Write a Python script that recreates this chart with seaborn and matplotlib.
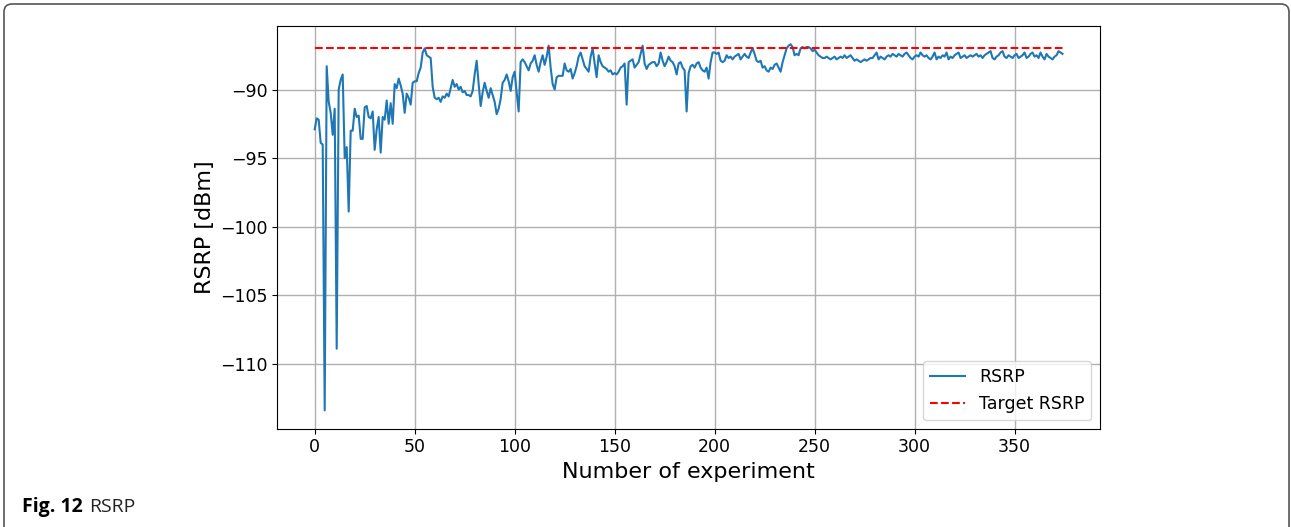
import numpy as np
import pandas as pd
import matplotlib
matplotlib.use("Agg")
import matplotlib.pyplot as plt
from matplotlib.patches import FancyBboxPatch
import seaborn as sns

# RSRP per experiment in segments
rsrp_0_59 = [
    -92.9, -92.1, -92.2, -93.9, -94.0, -113.4, -88.3, -90.9, -91.7, -93.3,
    -91.4, -108.9, -90.0, -89.3, -88.9, -95.0, -94.2, -98.9, -93.0, -93.0,
    -91.4, -92.0, -91.9, -93.6, -93.6, -91.3, -91.2, -92.0, -92.1, -91.6,
    -94.4, -92.9, -92.0, -94.6, -92.0, -92.2, -90.8, -92.5, -91.0, -92.5,
    -89.6, -89.9, -89.2, -89.7, -90.3, -91.7, -90.3, -90.6, -91.1, -89.5,
    -89.4, -89.4, -88.8, -88.4, -87.3, -87.0, -87.5, -87.6, -87.7, -89.8,
]
rsrp_60_121 = [
    -90.6, -90.7, -90.6, -90.9, -90.5, -90.6, -90.3, -90.5, -89.9, -89.3,
    -89.8, -89.6, -90.0, -89.8, -90.2, -90.1, -90.4, -90.4, -90.5, -90.1,
    -88.9, -87.9, -89.6, -91.2, -90.2, -89.5, -90.1, -90.6, -89.9, -90.4,
    -90.9, -91.8, -91.4, -90.7, -89.5, -89.3, -88.9, -89.4, -90.1, -89.1,
    -88.7, -90.2, -91.6, -88.0, -87.8, -88.0, -88.3, -88.6, -88.1, -87.9,
    -87.5, -88.2, -88.7, -88.0, -87.5, -88.2, -87.6, -86.8, -88.4, -89.6,
    -90.0, -89.1,
]
rsrp_122_187 = [
    -89.0, -89.0, -89.0, -88.1, -88.6, -88.7, -88.5, -89.2, -88.8, -88.3,
    -87.6, -87.3, -87.8, -88.3, -88.5, -88.7, -87.6, -87.0, -88.1, -89.1,
    -87.5, -88.0, -88.3, -88.4, -88.5, -88.7, -88.6, -88.9, -88.8, -88.9,
    -88.7, -88.4, -88.3, -88.1, -91.1, -88.0, -87.9, -87.8, -88.4, -88.2,
    -88.0, -87.4, -86.8, -88.1, -88.5, -88.2, -88.1, -88.0, -88.0, -88.3,
    -88.1, -87.3, -87.9, -88.3, -88.0, -87.6, -87.9, -88.0, -88.3, -88.9,
    -88.1, -88.0, -88.4, -88.6, -91.6, -88.8,
]
rsrp_188_252 = [
    -88.3, -88.2, -88.4, -88.1, -88.0, -88.4, -88.6, -88.7, -88.4, -89.2,
    -88.0, -87.3, -87.3, -87.4, -87.3, -87.9, -88.0, -87.9, -87.5, -87.7,
    -87.6, -87.8, -87.6, -87.5, -87.4, -87.8, -87.6, -87.4, -87.6, -87.7,
    -87.3, -87.0, -87.4, -87.9, -88.0, -87.9, -88.4, -88.3, -88.6, -88.7,
    -88.4, -88.5, -88.2, -88.1, -88.4, -88.7, -88.0, -87.5, -87.0, -86.8,
    -86.7, -86.9, -87.5, -87.4, -87.5, -87.0, -86.9, -87.0, -86.9, -86.9,
    -87.0, -87.2, -87.1, -87.3, -87.5,
]
rsrp_253_374 = [
    -87.6, -87.7, -87.7, -87.6, -87.7, -87.8, -87.7, -87.6, -87.8, -87.7,
    -87.6, -87.7, -87.5, -87.7, -87.6, -87.5, -87.7, -87.9, -87.8, -87.9,
    -88.0, -87.9, -87.8, -87.9, -87.8, -87.7, -87.7, -87.5, -87.3, -87.8,
    -87.6, -87.7, -87.8, -87.6, -87.5, -87.6, -87.4, -87.5, -87.6, -87.4,
    -87.5, -87.6, -87.4, -87.3, -87.5, -87.7, -87.8, -87.6, -87.5, -87.6,
    -87.3, -87.5, -87.6, -87.5, -87.7, -87.8, -87.6, -87.3, -87.8, -87.6,
    -87.7, -87.5, -87.6, -87.3, -87.8, -87.6, -87.7, -87.5, -87.4, -87.3,
    -87.7, -87.6, -87.5, -87.7, -87.6, -87.5, -87.6, -87.5, -87.4, -87.6,
    -87.5, -87.7, -87.5, -87.4, -87.3, -87.2, -87.7, -87.8, -87.6, -87.5,
    -87.3, -87.2, -87.6, -87.7, -87.5, -87.6, -87.7, -87.5, -87.4, -87.7,
    -87.6, -87.5, -87.3, -87.7, -87.6, -87.4, -87.3, -87.6, -87.5, -87.7,
    -87.3, -87.6, -87.8, -87.4, -87.6, -87.7, -87.8, -87.6, -87.5, -87.2,
    -87.3, -87.4,
]
TARGET_RSRP = -87.0

rsrp = rsrp_0_59 + rsrp_60_121 + rsrp_122_187 + rsrp_188_252 + rsrp_253_374
experiments = np.arange(len(rsrp))

df = pd.DataFrame({
    "experiment": experiments,
    "RSRP": rsrp,
    "Target RSRP": np.full(len(rsrp), TARGET_RSRP),
})


def main():
    fig = plt.figure(figsize=(12.91, 5.27), dpi=100)
    ax = fig.add_axes([0.2148, 0.1865, 0.6372, 0.7642])

    sns.lineplot(data=df, x="experiment", y="RSRP", ax=ax,
                 color="#1f77b4", linewidth=1.5, label="RSRP")
    sns.lineplot(data=df, x="experiment", y="Target RSRP", ax=ax,
                 color="red", linestyle="--", linewidth=1.5, label="Target RSRP")

    ax.set_xlabel("Number of experiment", fontsize=16)
    ax.set_ylabel("RSRP [dBm]", fontsize=16)
    ax.tick_params(labelsize=12.5)
    ax.set_xticks(np.arange(0, 351, 50))
    ax.set_yticks(np.arange(-110, -89, 5))
    ax.grid(True, color="#b0b0b0", linewidth=1.0)
    ax.legend(loc="lower right", fontsize=12.5)

    # outer frame of the figure panel
    frame = FancyBboxPatch((4, -30), 1285, 553,
                           boxstyle="round,pad=0,rounding_size=8",
                           transform=None, fill=False,
                           edgecolor="#555555", linewidth=1.2)
    fig.patches.append(frame)

    fig.text(22 / 1291, 1 - 512 / 527, "Fig. 12", fontsize=14,
             fontweight="bold", family="Open Sans", va="baseline")
    fig.text(89 / 1291, 1 - 512 / 527, "RSRP", fontsize=14,
             family="Open Sans", va="baseline", color="#222222")

    fig.savefig("out.png", dpi=100)
    plt.close(fig)


if __name__ == "__main__":
    main()
